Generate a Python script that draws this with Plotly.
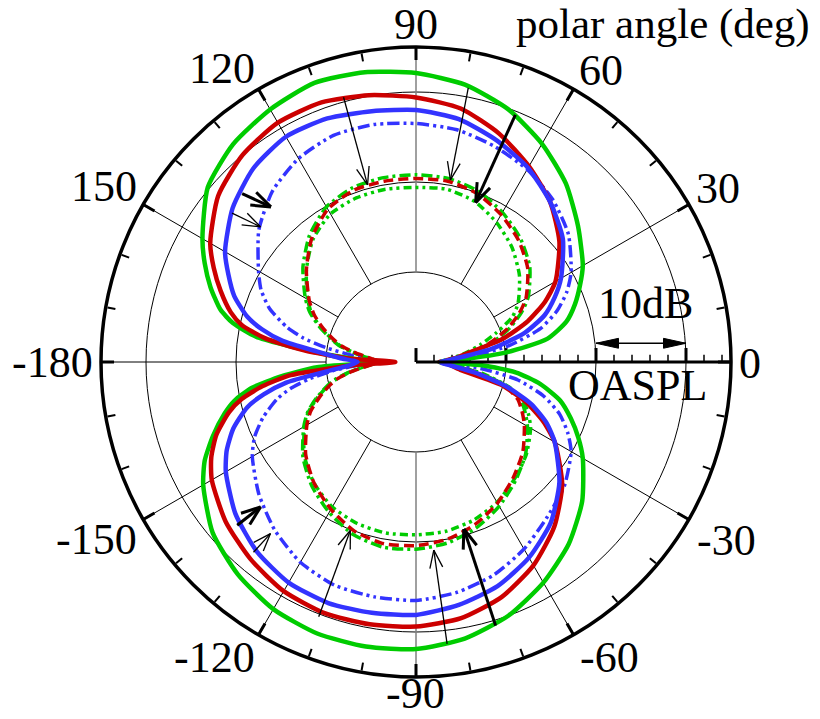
import numpy as np
import plotly.graph_objects as go

# ---------------------------------------------------------------------------
# OASPL directivity, polar angle in degrees (radial unit: dB)
# ---------------------------------------------------------------------------
ANGLES = [-180, -177, -174, -171, -168, -165, -160, -155, -150, -140, -130, -120,
          -110, -100, -90, -80, -70, -60, -50, -40, -30, -25, -20, -15, -10, -6, -3,
          0, 3, 6, 10, 15, 20, 25, 30, 40, 50, 60, 70, 80, 90, 100, 110, 120, 130,
          140, 150, 155, 160, 165, 168, 171, 174, 177, 180]

GREEN_SOLID = [3.9, 11.0, 15.0, 18.5, 20.6, 22.0, 24.0, 25.9, 27.3, 29.5, 30.8, 31.7,
               32.1, 32.1, 31.9, 31.2, 30.0, 28.3, 26.4, 24.1, 21.4, 19.9, 18.3, 16.6, 14.0, 11.2, 7.5,
               2.7, 5.0, 10.0, 14.8, 17.3, 18.8, 20.1, 21.4, 23.5, 25.9, 28.0, 29.9, 31.3, 32.1, 32.7, 33.0, 32.4, 31.6,
               30.2, 27.4, 25.9, 24.3, 22.5, 20.8, 18.0, 12.0, 7.0, 3.9]

RED_SOLID = [2.3, 7.0, 14.0, 17.3, 19.8, 21.5, 23.6, 25.1, 26.2, 27.6, 28.6, 29.4,
             29.7, 29.6, 29.4, 28.9, 27.8, 26.1, 23.9, 21.2, 17.8, 15.6, 13.0, 9.8, 5.0, 4.0, 3.5,
             3.0, 3.5, 4.5, 6.0, 10.0, 13.2, 15.8, 17.9, 20.8, 23.2, 25.1, 27.0, 28.6, 29.4, 30.1, 30.7, 30.7, 30.0,
             28.7, 26.4, 24.8, 23.1, 21.3, 19.8, 17.0, 12.5, 7.5, 2.3]

BLUE_SOLID = [6.5, 7.5, 10.0, 14.6, 17.3, 19.4, 21.6, 23.2, 24.4, 26.2, 27.5, 28.3,
              28.5, 28.3, 28.1, 27.4, 26.5, 25.1, 23.3, 20.8, 17.8, 16.0, 13.6, 10.3, 6.5, 4.0, 3.0,
              2.7, 3.5, 5.0, 8.6, 12.5, 15.2, 17.0, 18.6, 21.3, 23.2, 24.9, 26.2, 27.4, 28.0, 28.3, 28.8, 28.9, 28.1,
              26.6, 24.5, 23.0, 21.5, 19.4, 17.5, 15.0, 11.0, 8.5, 6.5]

BLUE_DASHDOT = [5.5, 6.5, 9.3, 12.0, 14.3, 16.0, 18.1, 19.8, 21.0, 22.8, 24.4, 25.7,
                26.4, 26.5, 26.5, 26.0, 25.2, 24.0, 22.6, 21.5, 19.9, 18.6, 17.0, 14.7, 11.5, 7.5, 4.0,
                2.7, 4.0, 6.5, 10.5, 14.3, 16.7, 18.5, 19.9, 22.1, 23.6, 24.7, 25.5, 26.2, 26.5, 26.8, 26.8, 26.1, 24.8,
                22.8, 20.2, 19.0, 17.3, 14.8, 12.8, 10.1, 7.3, 6.0, 5.5]

RED_DASHED = [4.0, 4.8, 6.0, 7.5, 8.9, 9.9, 11.4, 12.9, 14.0, 16.0, 17.6, 18.9,
              20.0, 20.5, 20.4, 20.0, 19.2, 18.1, 16.8, 15.5, 13.9, 13.0, 12.0, 10.2, 7.0, 4.5, 3.0,
              2.5, 3.0, 4.3, 6.3, 8.7, 10.8, 12.6, 14.1, 16.2, 17.7, 18.9, 19.9, 20.4, 20.4, 20.4, 20.3, 19.6, 18.0,
              15.9, 13.7, 12.5, 11.0, 9.4, 8.4, 7.0, 5.6, 4.5, 4.0]

GREEN_DASHDOT = [4.2, 5.0, 6.2, 7.7, 9.1, 10.2, 11.8, 13.3, 14.4, 16.4, 18.0, 19.3,
                 20.4, 20.9, 20.8, 20.4, 19.6, 18.5, 17.2, 15.9, 14.3, 13.4, 12.4, 10.5, 7.3, 4.7, 3.2,
                 2.5, 3.2, 4.6, 6.6, 9.0, 11.1, 12.9, 14.4, 16.5, 18.0, 19.2, 20.2, 20.7, 20.8, 20.8, 20.6, 19.9, 18.4,
                 16.4, 14.2, 13.0, 11.4, 9.7, 8.7, 7.3, 5.8, 4.7, 4.2]

GREEN_DASHDOTDOT = [4.1, 4.9, 6.1, 7.6, 9.0, 10.1, 11.7, 13.2, 14.3, 16.2, 17.6, 18.6,
                    19.1, 19.3, 19.2, 19.1, 18.7, 18.0, 17.0, 16.0, 14.7, 13.8, 12.7, 10.7, 7.6, 4.8, 3.2,
                    2.5, 3.0, 4.0, 5.5, 7.4, 9.5, 11.8, 13.1, 15.0, 16.6, 17.9, 19.0, 19.5, 19.4, 19.5, 19.4, 19.0, 17.8,
                    15.9, 13.9, 12.8, 11.3, 9.6, 8.6, 7.2, 5.8, 4.6, 4.1]

# Trend arrows: tail (angle, dB) -> head (angle, dB), thick flag
ARROW_TAIL_THETA = [105.3, 79.2, 68.1, 135.9, 141.0, -137.6, -130.5, -110.9, -83.7, -73.2]
ARROW_TAIL_R = [30.5, 31.0, 29.6, 26.9, 26.3, 26.9, 27.8, 30.3, 31.5, 30.6]
ARROW_HEAD_THETA = [105.3, 79.3, 69.5, 133.1, 139.0, -137.0, -130.3, -111.3, -84.6, -74.0]
ARROW_HEAD_R = [20.4, 20.6, 18.9, 23.6, 22.9, 23.6, 25.0, 20.1, 21.0, 19.3]
ARROW_THICK = [False, False, True, True, False, True, False, False, False, True]

# Axis furniture
R_MAX = 35
GRID_RINGS = [10, 20, 30]
SPOKE_ANGLES = [30, 60, 120, 150, 180, 210, 240, 300, 330]
VERTICAL_SPOKES = [90, 270]
ANGLE_TICKS = list(range(0, 360, 10))
ANGLE_LABELS = ["0", "30", "60", "90", "120", "150", "-180", "-150", "-120", "-90", "-60", "-30"]
RADIAL_MINOR = list(range(0, 35, 2))
RADIAL_MAJOR = [0, 10, 20, 30]
SCALE_BAR = (20, 30)   # dB span of the "10dB" scale bar

FONT = "Liberation Serif"
GREEN = "#00cc00"
RED = "#cc0000"
BLUE = "#3333ff"

W, H = 820, 719
CX, CY, RAD = 416, 362, 315
# where each angle label sits (pixels from the top-left corner)
LABEL_XY = [(750, 363), (718, 188), (601, 70), (416, 24), (222, 68), (104, 186),
            (52, 362), (96, 539), (214, 657), (415, 693), (609, 657), (726, 540)]


def to_polar(x, y):
    return float(np.hypot(x, y)), float(np.degrees(np.arctan2(y, x)))


def to_xy(theta, r):
    t = np.radians(theta)
    return r * np.cos(t), r * np.sin(t)


fig = go.Figure()

# spokes
sr, st = [], []
for a in SPOKE_ANGLES:
    sr += [GRID_RINGS[0], R_MAX, None]
    st += [a, a, None]
fig.add_trace(go.Scatterpolar(r=sr, theta=st, mode="lines",
                              line=dict(color="black", width=1), hoverinfo="skip"))
vr, vt = [], []
for a in VERTICAL_SPOKES:
    vr += [GRID_RINGS[0], R_MAX, None]
    vt += [a, a, None]
fig.add_trace(go.Scatterpolar(r=vr, theta=vt, mode="lines",
                              line=dict(color="#808080", width=1.5), hoverinfo="skip"))

# heavy tick marks on the outer ring every 30 deg
mr, mt = [], []
for a in range(0, 360, 30):
    mr += [R_MAX - 1.45, R_MAX, None]
    mt += [a, a, None]
fig.add_trace(go.Scatterpolar(r=mr, theta=mt, mode="lines",
                              line=dict(color="black", width=3), hoverinfo="skip"))


# radial scale ticks standing on the 0 deg axis
def radial_ticks(values, height):
    rr, tt = [], []
    for v in values:
        r0, t0 = to_polar(v, 0.0)
        r1, t1 = to_polar(v, height)
        rr += [r0, r1, None]
        tt += [t0, t1, None]
    return rr, tt


rr, tt = radial_ticks(RADIAL_MINOR, 0.8)
fig.add_trace(go.Scatterpolar(r=rr, theta=tt, mode="lines",
                              line=dict(color="black", width=1.5), hoverinfo="skip"))
rr, tt = radial_ticks(RADIAL_MAJOR, 1.55)
fig.add_trace(go.Scatterpolar(r=rr, theta=tt, mode="lines",
                              line=dict(color="black", width=3), hoverinfo="skip"))

# directivity curves
curves = [
    (GREEN_DASHDOTDOT, GREEN, "8px,4px,3px,4px,3px,4px", 3.5),
    (GREEN_DASHDOT, GREEN, "11px,4px,3px,4px", 3.5),
    (RED_DASHED, RED, "10px,5px", 3.5),
    (BLUE_DASHDOT, BLUE, "12px,4px,3px,4px,3px,4px", 3.5),
    (GREEN_SOLID, GREEN, "solid", 4.5),
    (RED_SOLID, RED, "solid", 4.5),
    (BLUE_SOLID, BLUE, "solid", 4.5),
]
for vals, col, dash, w in curves:
    fig.add_trace(go.Scatterpolar(r=vals, theta=ANGLES, mode="lines",
                                  line=dict(color=col, width=w, dash=dash,
                                            shape="spline", smoothing=0.6),
                                  hoverinfo="skip"))


# trend arrows with open heads
def arrow_path(t_tail, r_tail, t_head, r_head, barb, spread=20.0):
    tx, ty = to_xy(t_tail, r_tail)
    hx, hy = to_xy(t_head, r_head)
    ux, uy = tx - hx, ty - hy
    n = np.hypot(ux, uy)
    ux, uy = ux / n, uy / n
    pts_r, pts_t = [], []
    for p in [(tx, ty), (hx, hy)]:
        r, t = to_polar(*p)
        pts_r.append(r)
        pts_t.append(t)
    pts_r.append(None)
    pts_t.append(None)
    for s in (spread, -spread):
        c, si = np.cos(np.radians(s)), np.sin(np.radians(s))
        bx = hx + barb * (ux * c - uy * si)
        by = hy + barb * (ux * si + uy * c)
        for p in [(bx, by), (hx, hy)]:
            r, t = to_polar(*p)
            pts_r.append(r)
            pts_t.append(t)
        pts_r.append(None)
        pts_t.append(None)
    return pts_r, pts_t


for thick in (False, True):
    ar, at = [], []
    for i in range(len(ARROW_TAIL_R)):
        if ARROW_THICK[i] != thick:
            continue
        pr, pt = arrow_path(ARROW_TAIL_THETA[i], ARROW_TAIL_R[i],
                            ARROW_HEAD_THETA[i], ARROW_HEAD_R[i],
                            2.3 if thick else 2.1)
        ar += pr
        at += pt
    fig.add_trace(go.Scatterpolar(r=ar, theta=at, mode="lines",
                                  line=dict(color="black", width=3 if thick else 1.3),
                                  hoverinfo="skip"))

# "10dB" scale bar with filled heads
bar_y = 2.08
lr, lt = [], []
for x in SCALE_BAR:
    r, t = to_polar(x, bar_y)
    lr.append(r)
    lt.append(t)
fig.add_trace(go.Scatterpolar(r=lr, theta=lt, mode="lines",
                              line=dict(color="black", width=1.5), hoverinfo="skip"))
for tip, direction in ((SCALE_BAR[0], 1), (SCALE_BAR[1], -1)):
    tri = [(tip, bar_y), (tip + direction * 2.5, bar_y + 0.55),
           (tip + direction * 2.5, bar_y - 0.55), (tip, bar_y)]
    hr, ht = zip(*[to_polar(*p) for p in tri])
    fig.add_trace(go.Scatterpolar(r=list(hr), theta=list(ht), mode="lines",
                                  fill="toself", fillcolor="black",
                                  line=dict(color="black", width=1), hoverinfo="skip"))


def text_note(text, x, y, size=44):
    return dict(text=text, x=x / W, y=1 - y / H, xref="paper", yref="paper",
                showarrow=False, font=dict(family=FONT, size=size, color="black"),
                xanchor="center", yanchor="middle")


annotations = [text_note(t, x, y) for t, (x, y) in zip(ANGLE_LABELS, LABEL_XY)]
annotations += [
    text_note("polar angle (deg)", 663, 24, 43),
    text_note("10dB", 645, 304),
    text_note("OASPL", 637, 385),
]

fig.update_layout(
    width=W, height=H,
    margin=dict(l=0, r=0, t=0, b=0),
    paper_bgcolor="white",
    showlegend=False,
    polar=dict(
        domain=dict(x=[(CX - RAD) / W, (CX + RAD) / W],
                    y=[(H - CY - RAD) / H, (H - CY + RAD) / H]),
        bgcolor="white",
        radialaxis=dict(range=[0, R_MAX], angle=0, tickmode="array",
                        tickvals=GRID_RINGS, showticklabels=False, ticks="",
                        showgrid=True, gridcolor="black", gridwidth=1,
                        showline=True, linecolor="black", linewidth=3),
        angularaxis=dict(direction="counterclockwise", rotation=0,
                         tickmode="array", tickvals=ANGLE_TICKS,
                         showticklabels=False,
                         ticks="inside", ticklen=8, tickwidth=1.5, tickcolor="black",
                         showgrid=False, showline=True, linecolor="black", linewidth=3.5),
    ),
    annotations=annotations,
)

fig.write_html("out.html")
